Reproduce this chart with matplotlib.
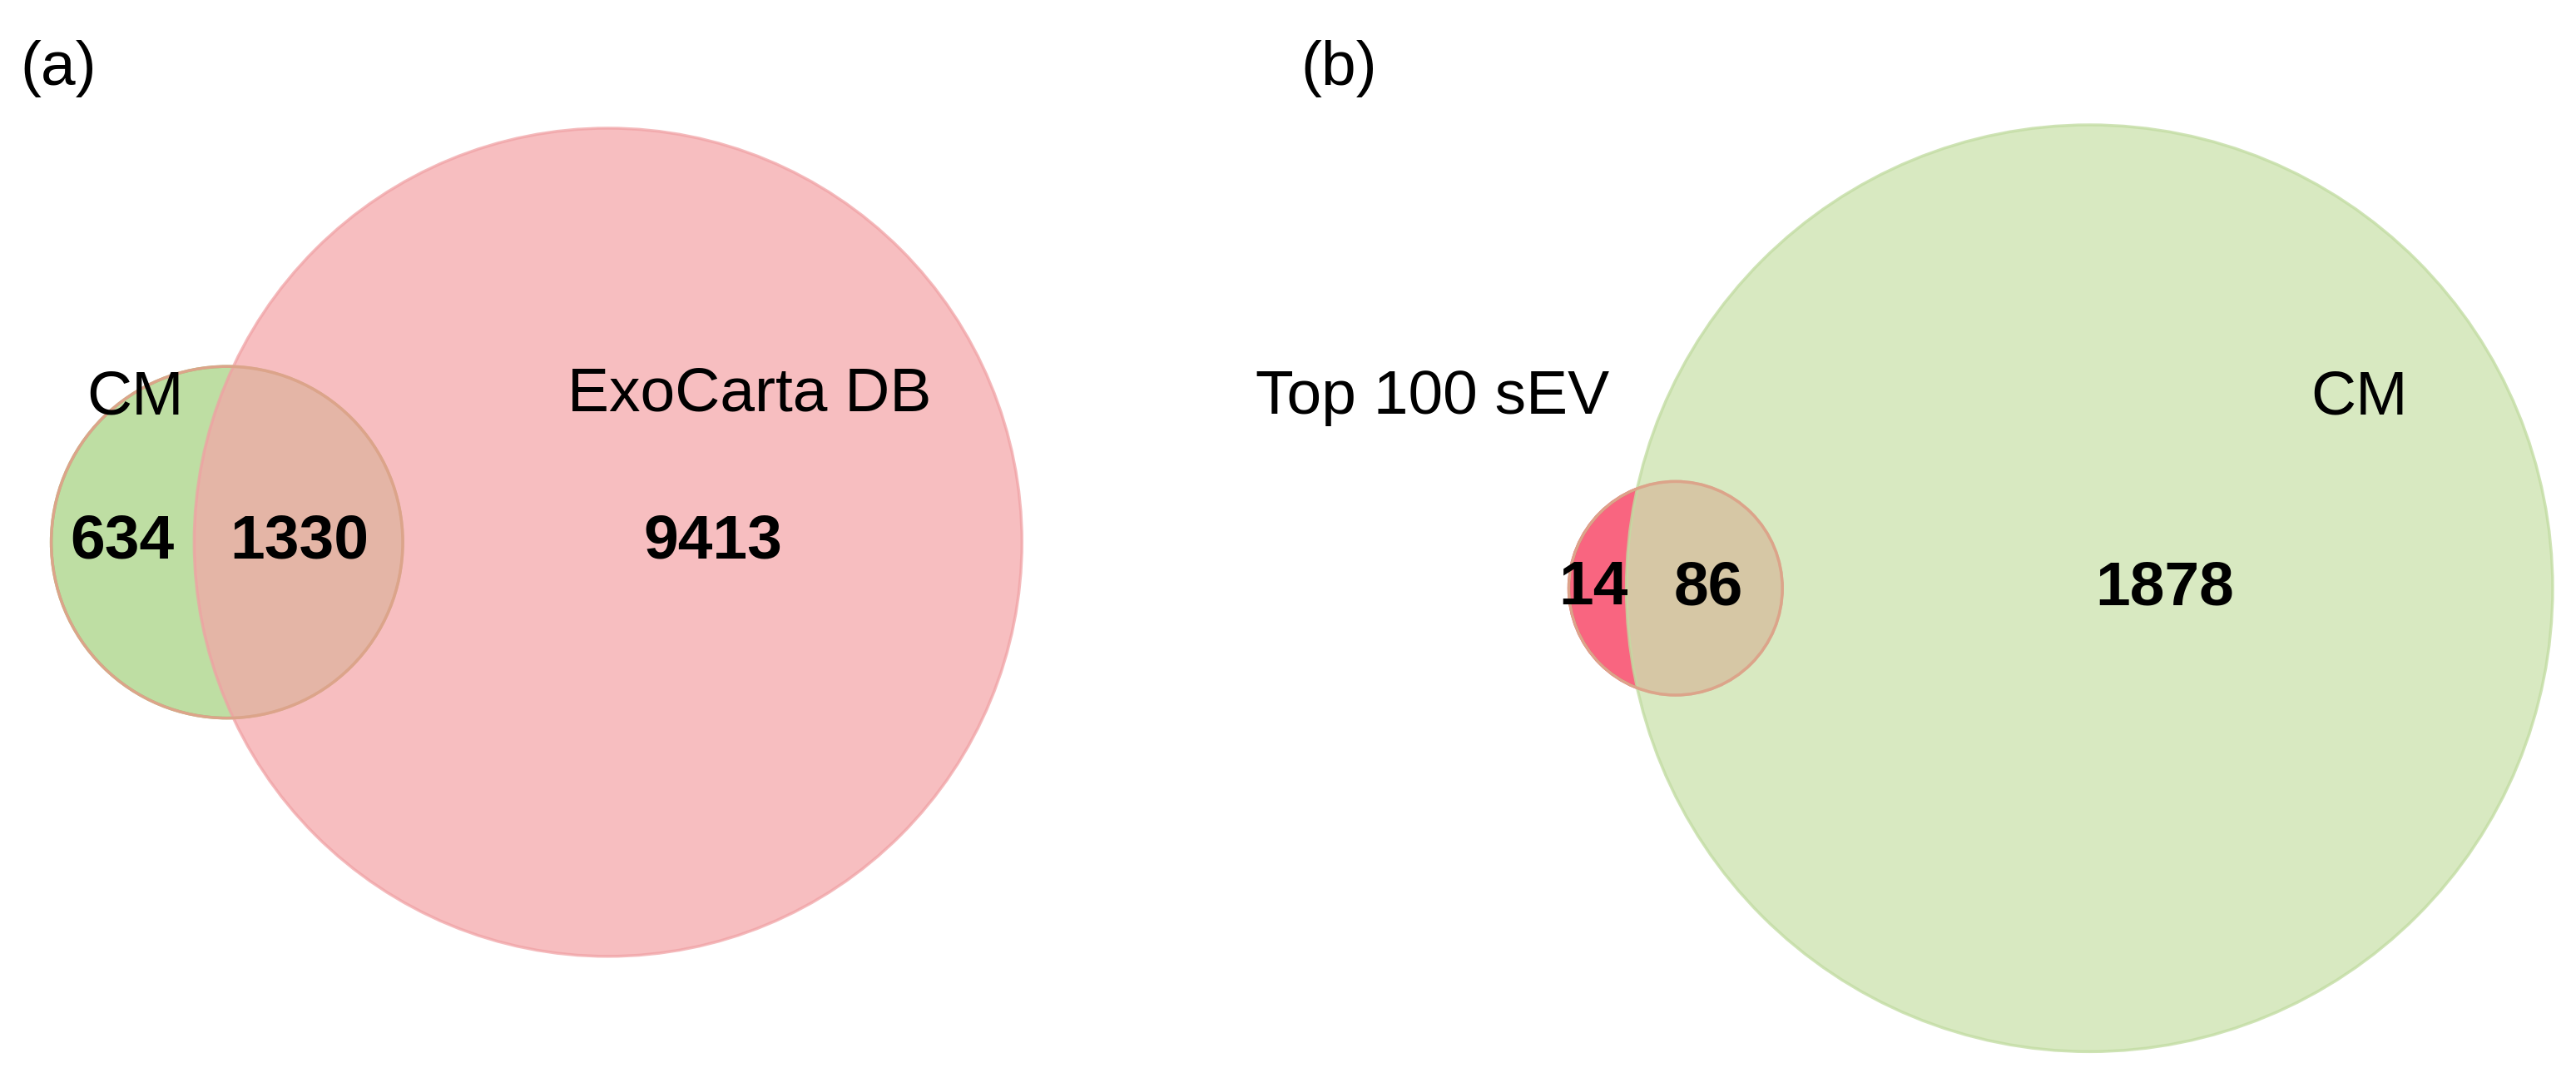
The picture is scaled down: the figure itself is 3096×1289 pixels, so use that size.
import matplotlib.pyplot as plt
from matplotlib.patches import Circle

plt.rcParams["font.family"] = ["Liberation Sans", "DejaVu Sans"]

# panel (a)
a_sets = ["CM", "ExoCarta DB"]
a_counts = [634, 1330, 9413]
# panel (b)
b_sets = ["Top 100 sEV", "CM"]
b_counts = [14, 86, 1878]

fig = plt.figure(figsize=(30.96, 12.89), dpi=100)
ax = fig.add_axes([0, 0, 1, 1])
ax.set_xlim(0, 1568)
ax.set_ylim(653, 0)
ax.set_aspect("equal")
ax.axis("off")

green_edge = "#a9d38a"
# (a)
ax.add_patch(Circle((138, 330), 107, facecolor="#a8d485", alpha=0.75,
                    edgecolor="#8cc063", lw=2.5))
ax.add_patch(Circle((370, 330), 252, facecolor="#f4a6a8", alpha=0.72,
                    edgecolor="#f0a0a3", lw=2.5))
ax.add_patch(Circle((138, 330), 107, facecolor="none", edgecolor="#dca48a", lw=2.5))
# (b)
ax.add_patch(Circle((1020, 358), 65, facecolor="#f94a6a", alpha=0.85,
                    edgecolor="#e83a5a", lw=2.5))
ax.add_patch(Circle((1272, 358), 282, facecolor="#cde3b0", alpha=0.78,
                    edgecolor="#c2dca2", lw=2.5))
ax.add_patch(Circle((1020, 358), 65, facecolor="none", edgecolor="#dca48a", lw=2.5))

fs = 54
ax.text(12, 42, "(a)", fontsize=fs, va="center", ha="left")
ax.text(792, 42, "(b)", fontsize=fs, va="center", ha="left")

ax.text(82, 242, a_sets[0], fontsize=fs, ha="center", va="center")
ax.text(456, 240, a_sets[1], fontsize=fs, ha="center", va="center")
ax.text(74, 330, str(a_counts[0]), fontsize=fs, weight="bold", ha="center", va="center")
ax.text(182, 330, str(a_counts[1]), fontsize=fs, weight="bold", ha="center", va="center")
ax.text(434, 330, str(a_counts[2]), fontsize=fs, weight="bold", ha="center", va="center")

ax.text(872, 242, b_sets[0], fontsize=fs, ha="center", va="center")
ax.text(1436, 242, b_sets[1], fontsize=fs, ha="center", va="center")
ax.text(970, 358, str(b_counts[0]), fontsize=fs, weight="bold", ha="center", va="center")
ax.text(1040, 358, str(b_counts[1]), fontsize=fs, weight="bold", ha="center", va="center")
ax.text(1318, 358, str(b_counts[2]), fontsize=fs, weight="bold", ha="center", va="center")

fig.savefig("out.png", dpi=100)
